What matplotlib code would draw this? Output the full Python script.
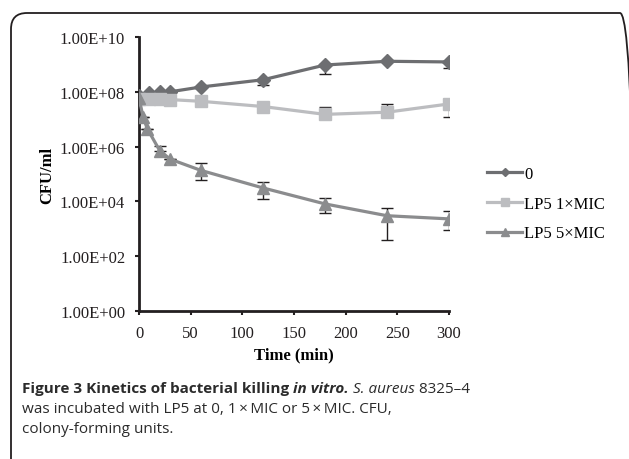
import numpy as np
from matplotlib import pyplot as plt
from matplotlib.patches import FancyBboxPatch
from matplotlib.lines import Line2D
from matplotlib.transforms import IdentityTransform

# time points (min)
t_ctrl = [0, 10, 20, 30, 60, 120, 180, 240, 300]
t_1x = [0, 10, 20, 30, 60, 120, 180, 240, 300]
t_5x = [0, 4, 8, 20, 30, 60, 120, 180, 240, 300]

# CFU/ml, with error bar ends
cfu_ctrl = [7.0e7, 8.7e7, 9.5e7, 1.0e8, 1.5e8, 2.75e8, 9.5e8, 1.3e9, 1.23e9]
lo_ctrl = [7.0e7, 8.7e7, 9.5e7, 1.0e8, 1.5e8, 1.7e8, 4.6e8, 1.3e9, 7.6e8]
hi_ctrl = [7.0e7, 8.7e7, 9.5e7, 1.0e8, 1.5e8, 2.9e8, 1.05e9, 1.3e9, 1.3e9]

cfu_1x = [5.6e7, 5.4e7, 5.3e7, 5.2e7, 4.5e7, 2.9e7, 1.5e7, 1.8e7, 3.6e7]
lo_1x = [5.6e7, 5.4e7, 5.3e7, 5.2e7, 4.5e7, 2.9e7, 1.4e7, 1.7e7, 1.2e7]
hi_1x = [5.6e7, 5.4e7, 5.3e7, 5.2e7, 4.5e7, 2.9e7, 2.9e7, 3.6e7, 3.8e7]

cfu_5x = [5.9e7, 1.2e7, 4.5e6, 7.2e5, 3.5e5, 1.35e5, 3.1e4, 8.1e3, 3.0e3, 2.3e3]
lo_5x = [5.9e7, 1.2e7, 4.5e6, 7.0e5, 3.5e5, 5.8e4, 1.23e4, 3.8e3, 4.0e2, 9.1e2]
hi_5x = [5.9e7, 1.2e7, 4.5e6, 1.05e6, 3.5e5, 2.5e5, 5.3e4, 1.35e4, 5.7e3, 4.3e3]

labels = ['0', 'LP5 1\u00d7MIC', 'LP5 5\u00d7MIC']
yticks = [1e0, 1e2, 1e4, 1e6, 1e8, 1e10]
ytick_labels = ['1.00E+00', '1.00E+02', '1.00E+04', '1.00E+06', '1.00E+08', '1.00E+10']
xticks = [0, 50, 100, 150, 200, 250, 300]

plt.rcParams['font.family'] = 'Liberation Serif'

W, H = 629, 460
fig = plt.figure(figsize=(W / 100, H / 100), dpi=100)

# rounded frame around the panel (runs off right and bottom)
frame = FancyBboxPatch((11, -80), 636 - 11, (H - 14) + 80,
                       boxstyle='round,pad=0,rounding_size=16',
                       transform=IdentityTransform(), fill=False,
                       edgecolor='#231f20', linewidth=1.3, clip_on=False)
fig.patches.append(frame)

ax = fig.add_axes([139 / W, (H - 312) / H, (449 - 139) / W, (312 - 38) / H])

series = [
    (t_ctrl, cfu_ctrl, lo_ctrl, hi_ctrl, '#6d6e71', 'D', 7.5),
    (t_1x, cfu_1x, lo_1x, hi_1x, '#bcbdc0', 's', 8.5),
    (t_5x, cfu_5x, lo_5x, hi_5x, '#8b8c8e', '^', 9),
]
handles = []
for (t, y, lo, hi, c, m, ms), lab in zip(series, labels):
    y = np.array(y)
    err = [y - np.array(lo), np.array(hi) - y]
    ax.errorbar(t, y, yerr=err, fmt='none', ecolor='#231f20', elinewidth=1,
                capsize=4, capthick=1, zorder=2)
    ax.plot(t, y, color=c, lw=2.3, marker=m, ms=ms, mec=c, mfc=c, zorder=3)
    handles.append(Line2D([], [], color=c, lw=2.3, marker=m, ms=ms * 0.6,
                          mec=c, mfc=c))

ax.set_yscale('log')
ax.set_ylim(1, 1e10)
ax.set_xlim(0, 300)
ax.set_yticks(yticks)
ax.set_yticklabels(ytick_labels)
ax.minorticks_off()
ax.set_xticks(xticks)
ax.tick_params(axis='both', direction='out', length=3, width=1.5,
               labelsize=12, colors='#231f20')
ax.tick_params(axis='y', pad=7)
ax.tick_params(axis='x', pad=7)
for s in ['top', 'right']:
    ax.spines[s].set_visible(False)
for s in ['left', 'bottom']:
    ax.spines[s].set_linewidth(2)
    ax.spines[s].set_color('#231f20')

ax.set_xlabel('Time (min)', fontsize=12, fontweight='bold', labelpad=4)
ax.set_ylabel('CFU/ml', fontsize=12, fontweight='bold', labelpad=3)

fig.legend(handles, labels, loc='upper left',
           bbox_to_anchor=(472 / W, (H - 152) / H), frameon=False,
           fontsize=12, handlelength=2.1, handletextpad=0.15, labelspacing=0.82)

# caption with mixed styles
cap = ['Open Sans']
fs = 11
def piece(prev, s, y, **kw):
    if prev is None:
        return fig.text(22 / W, y, s, family=cap, fontsize=fs,
                        va='baseline', color='#2b2b2b', **kw)
    return ax.annotate(s, xy=(1, y), xycoords=(prev, 'figure fraction'),
                       va='baseline', ha='left', family=cap, fontsize=fs,
                       color='#2b2b2b', annotation_clip=False, **kw)

y1 = (H - 393) / H
p = piece(None, 'Figure 3 Kinetics of bacterial killing', y1, fontweight='bold')
p = piece(p, ' in vitro.', y1, fontweight='bold', style='italic')
p = piece(p, ' S. aureus', y1, style='italic')
p = piece(p, ' 8325\u20134', y1)
piece(None, 'was incubated with LP5 at 0, 1\u2009\u00d7\u2009MIC or 5\u2009\u00d7\u2009MIC. CFU,',
      (H - 413) / H)
piece(None, 'colony-forming units.', (H - 433) / H)

plt.savefig('out.png', dpi=100)
